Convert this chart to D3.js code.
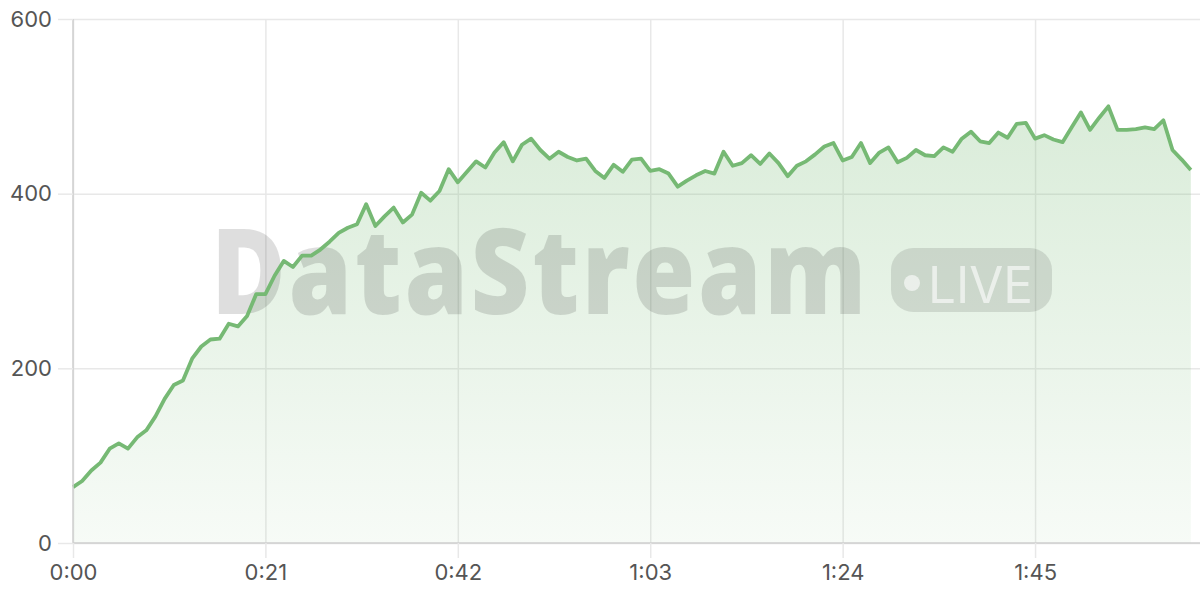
<!DOCTYPE html>
<html>
<head>
<meta charset="utf-8">
<script src="https://cdn.jsdelivr.net/npm/d3@7"></script>
<style>
  body { margin: 0; background: #fff; }
  #chart { width: 1200px; height: 600px; }
</style>
</head>
<body>
<div id="chart"></div>
<script>
var w = 1200;
var h = 600;
var margin = {top: 19, right: 0, bottom: 57, left: 73};

// one reading per second, 0:00 .. 2:02
var seconds = d3.range(0, 123);
var viewers = [64, 71, 83, 92, 108, 114, 108, 121, 129, 145,
               165, 181, 186, 211, 225, 233, 234, 251, 248, 260,
               285, 285, 306, 323, 316, 329, 329, 336, 345, 355,
               361, 365, 388, 363, 374, 384, 367, 376, 401, 392,
               403, 428, 413, 425, 437, 430, 447, 459, 437, 456,
               463, 450, 440, 448, 442, 438, 440, 426, 418, 433,
               425, 439, 440, 426, 428, 423, 408, 415, 421, 426,
               423, 448, 432, 435, 444, 434, 446, 435, 420, 432,
               437, 445, 454, 458, 438, 442, 458, 435, 447, 453,
               436, 441, 450, 444, 443, 453, 448, 463, 471, 460,
               458, 470, 464, 480, 481, 463, 467, 462, 459, 476,
               493, 473, 487, 500, 473, 473, 474, 476, 474, 484,
               450, 439, 427];
var xTicks = [0, 21, 42, 63, 84, 105];
var yTicks = [0, 200, 400, 600];

var xScale = d3.scaleLinear()
               .domain([0, 123])
               .range([margin.left, w - margin.right]);
var yScale = d3.scaleLinear()
               .domain([0, 600])
               .range([h - margin.bottom, margin.top]);

function fmtTime(s) {
    return Math.floor(s / 60) + ":" + d3.format("02d")(s % 60);
}

var svg = d3.select("#chart")
            .append("svg")
            .attr("width", w)
            .attr("height", h);

var defs = svg.append("defs");
var grad = defs.append("linearGradient")
               .attr("id", "areaFill")
               .attr("gradientUnits", "userSpaceOnUse")
               .attr("x1", 0).attr("x2", 0)
               .attr("y1", yScale(600)).attr("y2", yScale(0));
grad.append("stop").attr("offset", "0%").attr("stop-color", "#78bb76").attr("stop-opacity", 0.32);
grad.append("stop").attr("offset", "100%").attr("stop-color", "#78bb76").attr("stop-opacity", 0.06);

// Grid lines
var yGrid = d3.axisLeft(yScale).tickValues(yTicks).tickSize(-(w - margin.left - margin.right)).tickFormat("");
var xGrid = d3.axisBottom(xScale).tickValues(xTicks).tickSize(-(h - margin.top - margin.bottom)).tickFormat("");
svg.append("g").attr("class", "grid")
   .attr("transform", "translate(" + margin.left + ",0)").call(yGrid);
svg.append("g").attr("class", "grid")
   .attr("transform", "translate(0," + (h - margin.bottom) + ")").call(xGrid);
svg.selectAll(".grid .domain").remove();
svg.selectAll(".grid line").attr("stroke", "#e8e8e8").attr("stroke-width", 1.5);

// Area and line
var area = d3.area()
             .x(function(d, i) { return xScale(seconds[i]); })
             .y0(yScale(0))
             .y1(function(d) { return yScale(d); });
var line = d3.line()
             .x(function(d, i) { return xScale(seconds[i]); })
             .y(function(d) { return yScale(d); });

svg.append("path")
   .datum(viewers)
   .attr("d", area)
   .attr("fill", "url(#areaFill)");

// Watermark
var wm = svg.append("g").attr("class", "watermark");
wm.append("text")
  .text("DataStream")
  .attr("x", 211)
  .attr("y", 314)
  .attr("textLength", 658)
  .attr("lengthAdjust", "spacingAndGlyphs")
  .attr("letter-spacing", "3px")
  .attr("font-family", "'Open Sans', sans-serif")
  .attr("font-weight", 800)
  .attr("font-size", "118px")
  .attr("fill", "#000")
  .attr("fill-opacity", 0.13);
wm.append("rect")
  .attr("x", 891).attr("y", 248)
  .attr("width", 161).attr("height", 64)
  .attr("rx", 22)
  .attr("fill", "#000")
  .attr("fill-opacity", 0.11);
wm.append("circle")
  .attr("cx", 912).attr("cy", 283).attr("r", 8)
  .attr("fill", "#fff").attr("fill-opacity", 0.6);
wm.append("text")
  .text("LIVE")
  .attr("x", 928)
  .attr("y", 303)
  .attr("textLength", 105)
  .attr("lengthAdjust", "spacingAndGlyphs")
  .attr("font-family", "Inter, sans-serif")
  .attr("font-weight", 400)
  .attr("font-size", "50px")
  .attr("fill", "#fff")
  .attr("fill-opacity", 0.6);

svg.append("path")
   .datum(viewers)
   .attr("d", line)
   .attr("fill", "none")
   .attr("stroke", "#76b974")
   .attr("stroke-width", 3.8)
   .attr("stroke-linejoin", "round");

// Axes
var xAxis = d3.axisBottom(xScale).tickValues(xTicks).tickSize(15).tickPadding(6).tickFormat(fmtTime);
var yAxis = d3.axisLeft(yScale).tickValues(yTicks).tickSize(15).tickPadding(6);
var gx = svg.append("g").attr("transform", "translate(0," + (h - margin.bottom) + ")").call(xAxis);
var gy = svg.append("g").attr("transform", "translate(" + margin.left + ",0)").call(yAxis);
[gx, gy].forEach(function(g) {
    g.select(".domain").attr("stroke", "#cfcfcf").attr("stroke-width", 1.5)
     .attr("d", g === gx ? "M" + margin.left + ",0H" + (w - margin.right) : "M0," + margin.top + "V" + (h - margin.bottom));
    g.selectAll(".tick line").attr("stroke", "#e8e8e8").attr("stroke-width", 1.5);
    g.selectAll(".tick text")
     .attr("font-family", "Inter, sans-serif")
     .attr("font-size", "22px")
     .attr("fill", "#555");
});
</script>
</body>
</html>
